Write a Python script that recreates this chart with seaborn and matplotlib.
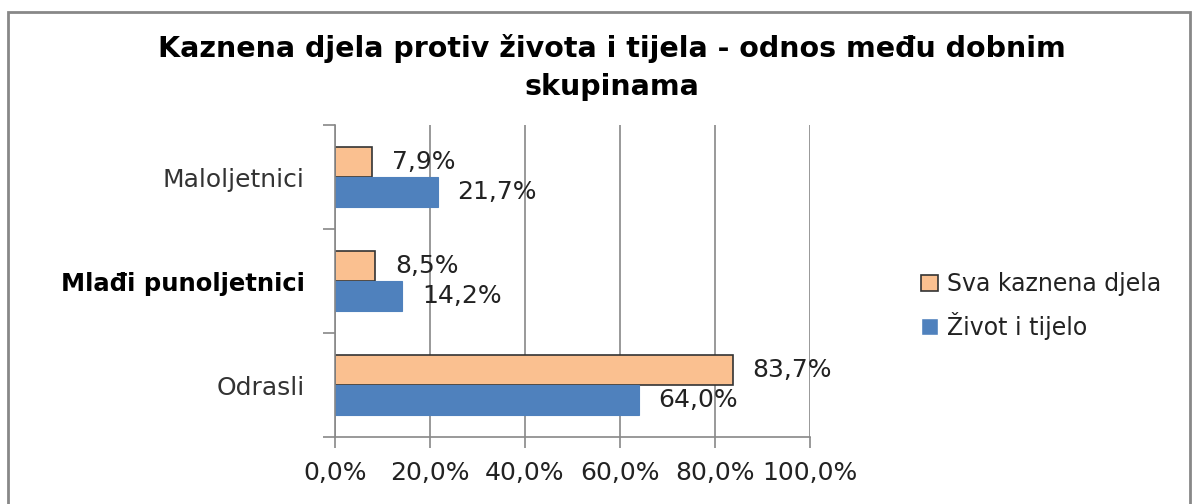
import pandas as pd
import matplotlib
matplotlib.use("Agg")
import matplotlib.pyplot as plt
import seaborn as sns
from matplotlib.patches import Rectangle

# --- Data ---
groups = ["Maloljetnici", "Mlađi punoljetnici", "Odrasli"]
series = ["Sva kaznena djela", "Život i tijelo"]
sva_kaznena = [7.9, 8.5, 83.7]
zivot_tijelo = [21.7, 14.2, 64.0]
x_ticks = [0, 20, 40, 60, 80, 100]

COLORS = {"Sva kaznena djela": "#FAC090", "Život i tijelo": "#4F81BD"}

df = pd.DataFrame({
    "Skupina": groups * 2,
    "Serija": [series[0]] * 3 + [series[1]] * 3,
    "Postotak": sva_kaznena + zivot_tijelo,
})

sns.set_style("white")
plt.rcParams["font.family"] = ["DejaVu Sans"]

fig = plt.figure(figsize=(11.98, 5.04), dpi=100)
ax = fig.add_axes([0.2796, 0.1329, 0.3965, 0.619])

sns.barplot(data=df, y="Skupina", x="Postotak", hue="Serija", order=groups,
            hue_order=series, palette=COLORS, orient="h", width=0.57,
            saturation=1, ax=ax, legend=True)

# bar edges: orange with dark outline, blue plain
for bar in ax.containers[0]:
    bar.set_edgecolor("#333333")
    bar.set_linewidth(1.2)
for bar in ax.containers[1]:
    bar.set_edgecolor("#4F81BD")
    bar.set_linewidth(0.8)

FS = 18
for cont, vals in zip(ax.containers, [sva_kaznena, zivot_tijelo]):
    ax.bar_label(cont, labels=[f"{v:.1f}%".replace(".", ",") for v in vals],
                 padding=14, fontsize=FS, color="#222222")

ax.set_xlim(0, 100)
ax.set_ylim(2.5, -0.5)
ax.set_xticks(x_ticks)
ax.set_xticklabels([f"{v:.1f}%".replace(".", ",") for v in x_ticks], fontsize=FS, color="#222222")
ax.set_yticks([-0.5, 0.5, 1.5, 2.5], minor=False)
ax.set_yticklabels([])
ax.set_yticks([0, 1, 2], minor=True)
ax.set_yticklabels(groups, minor=True, fontsize=FS, color="#333333")
ax.tick_params(axis="y", which="minor", left=False, length=0, pad=22)
ax.tick_params(axis="y", which="major", left=True, length=9, width=1.2,
               color="#888888", direction="out")
ax.tick_params(axis="x", bottom=True, length=8, width=1.2, color="#888888",
               direction="out", pad=9)
for lbl in ax.get_yticklabels(minor=True):
    if lbl.get_text() == "Mlađi punoljetnici":
        lbl.set_color("black")
        lbl.set_fontweight("bold")
        lbl.set_fontsize(17.5)

ax.xaxis.grid(True, color="#888888", linewidth=1.2)
ax.set_axisbelow(True)
for side in ["top", "right"]:
    ax.spines[side].set_visible(False)
for side in ["left", "bottom"]:
    ax.spines[side].set_color("#888888")
    ax.spines[side].set_linewidth(1.2)
ax.set_xlabel("")
ax.set_ylabel("")

leg = ax.legend(loc="center left", bbox_to_anchor=(1.19, 0.42), frameon=False,
                fontsize=17, handlelength=0.7, handleheight=0.7,
                handletextpad=0.4, labelspacing=0.65)
for t in leg.get_texts():
    t.set_color("#222222")
leg.legend_handles[0].set_edgecolor("#333333")
leg.legend_handles[0].set_linewidth(1.2)

fig.text(0.511, 0.866, "Kaznena djela protiv života i tijela - odnos među dobnim\nskupinama",
         ha="center", va="center", fontsize=20.5, fontweight="bold",
         color="black", linespacing=1.45)

# outer chart border
fig.patches.append(Rectangle((8 / 1198, -0.05), 1 - 16 / 1198, 1.05 - 12 / 504,
                             transform=fig.transFigure, fill=False,
                             edgecolor="#888888", linewidth=2))

fig.savefig("out.png", dpi=100)
